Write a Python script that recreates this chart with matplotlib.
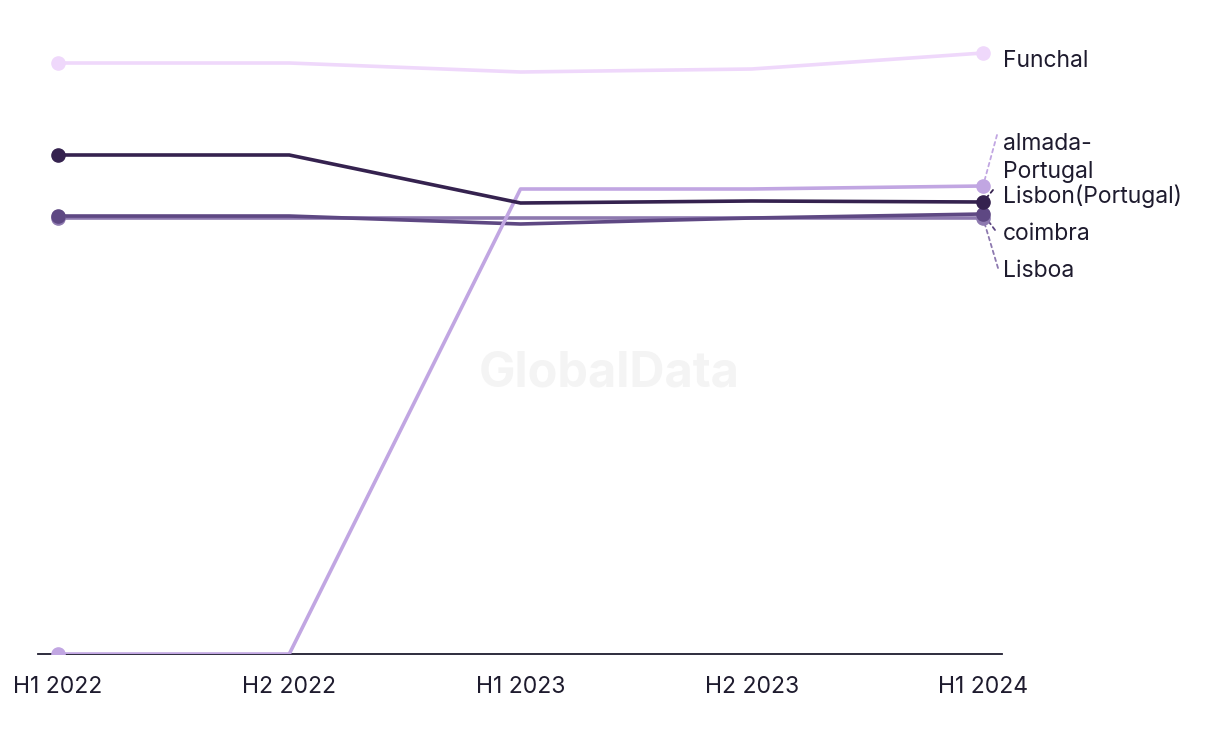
import matplotlib
matplotlib.use("Agg")
import matplotlib.pyplot as plt

plt.rcParams['font.family'] = ['Inter', 'DejaVu Sans']

periods = ["H1 2022", "H2 2022", "H1 2023", "H2 2023", "H1 2024"]

funchal = [5.91, 5.91, 5.82, 5.85, 6.01]
almada = [0.0, 0.0, 4.65, 4.65, 4.68]
lisbon_pt = [4.99, 4.99, 4.51, 4.53, 4.52]
coimbra = [4.38, 4.38, 4.30, 4.36, 4.40]
lisboa = [4.36, 4.36, 4.36, 4.36, 4.36]

names = ["Funchal", "almada-\nPortugal", "Lisbon(Portugal)", "coimbra", "Lisboa"]
series = [funchal, almada, lisbon_pt, coimbra, lisboa]
colors = ["#EFD8FB", "#C1A6E2", "#35224F", "#5E4883", "#8D79AF"]
# label offsets from the last point, in pixels (dx, dy up)
label_offsets = [(20, -8), (20, 28), (20, 6), (20, -20), (20, -53)]
# end of the dashed leader, in pixels from the last point (None = no leader)
leader_ends = [None, (14, 51), (10, 12), (12, -16), (15, -50)]

fig = plt.figure(figsize=(12.2, 7.44), dpi=100)
ax = fig.add_axes([38 / 1220, 90 / 744, 964 / 1220, 624 / 744])

x = list(range(len(periods)))
# draw order so darker lines sit on top like the reference
order = [4, 3, 1, 0, 2]
for i in order:
    ax.plot(x, series[i], color=colors[i], lw=2.6, solid_capstyle='round', zorder=3)
    ax.plot([x[0], x[-1]], [series[i][0], series[i][-1]], 'o', color=colors[i],
            markersize=9.5, zorder=4)

for i, name in enumerate(names):
    dx, dy = label_offsets[i]
    ax.annotate(name, xy=(x[-1], series[i][-1]), xytext=(dx * 0.72, dy * 0.72),
                textcoords='offset points', ha='left', va='center',
                fontsize=16.5, color="#1E1B2E", linespacing=1.3,
                annotation_clip=False)
    if leader_ends[i] is not None:
        lx, ly = leader_ends[i]
        ax.annotate("", xy=(x[-1], series[i][-1]), xytext=(lx * 0.72, ly * 0.72),
                    textcoords='offset points',
                    arrowprops=dict(arrowstyle='-', linestyle=(0, (2, 2)),
                                    color=colors[i], lw=1.3, shrinkA=0, shrinkB=5),
                    annotation_clip=False)

ax.text(0.593, 0.45, "GlobalData", transform=ax.transAxes, ha='center', va='center',
        fontsize=35, fontweight='bold', color="#F4F4F4", zorder=0)

ax.set_xlim(-20 / 231.25, 4 + 19 / 231.25)
ax.set_ylim(0, 6.24)
ax.set_xticks(x)
ax.set_xticklabels(periods, fontsize=16.5, color="#1E1B2E")
ax.tick_params(axis='x', length=0, pad=16)
ax.set_yticks([])
for s in ['top', 'right', 'left']:
    ax.spines[s].set_visible(False)
ax.spines['bottom'].set_color("#1E1B2E")
ax.spines['bottom'].set_linewidth(1.3)
ax.spines['bottom'].set_zorder(2)

fig.savefig("out.png", dpi=100)
